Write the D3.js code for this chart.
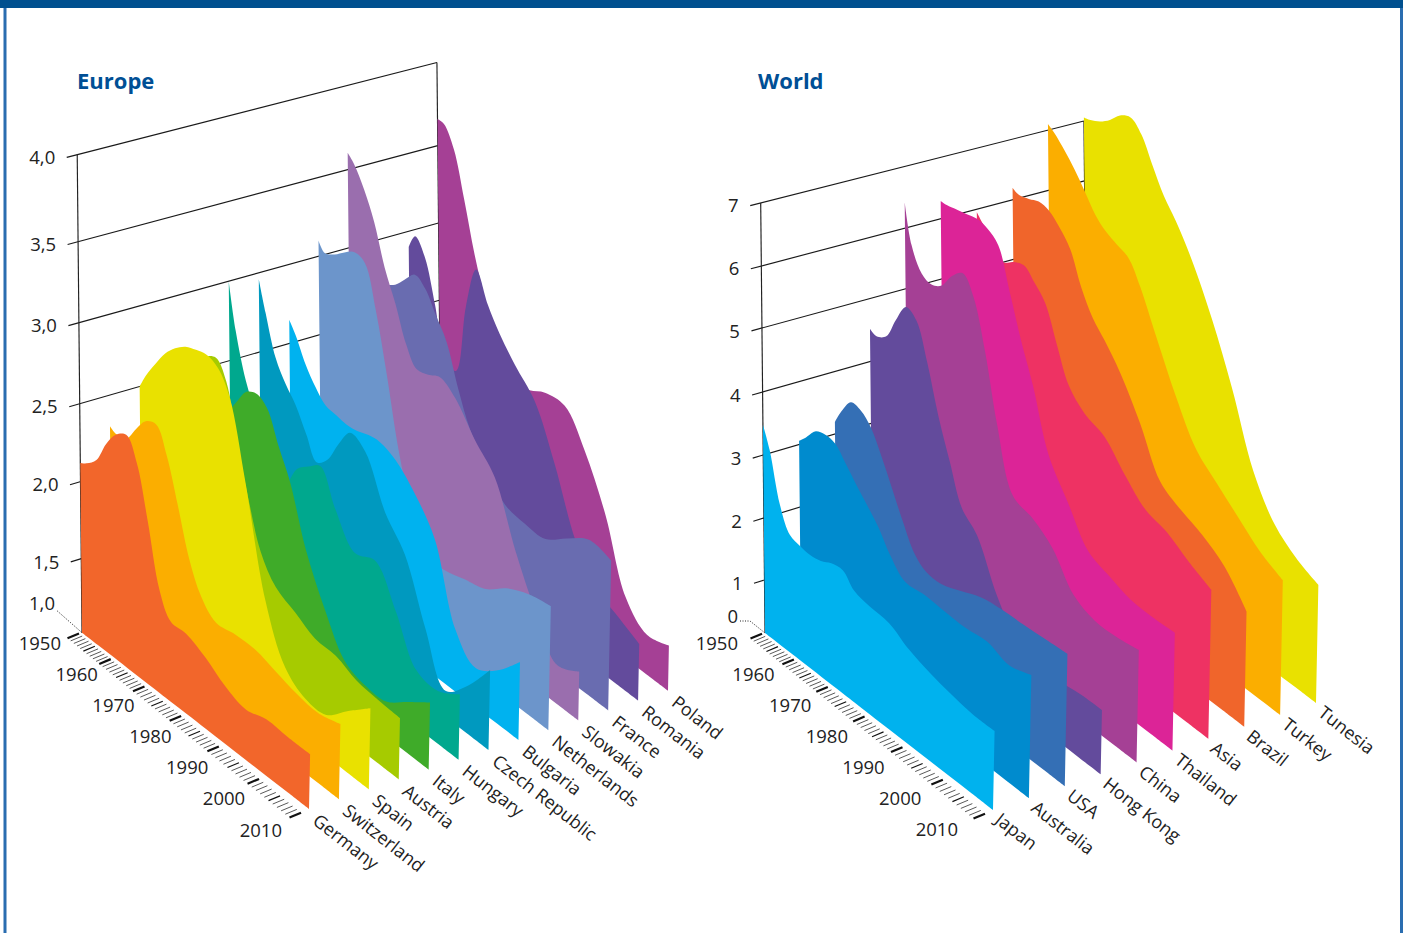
<!DOCTYPE html>
<html>
<head>
<meta charset="utf-8">
<script src="https://cdn.jsdelivr.net/npm/d3@7"></script>
<style>
  html, body { margin: 0; background: #fff; }
  text { font-family: "Open Sans", sans-serif; fill: #222; }
  .title { font-size: 22px; font-weight: 700; fill: #004f95; }
  .tick-label { font-size: 18.5px; }
  .series-label { font-size: 18px; }
</style>
</head>
<body>
<svg id="chart" width="1408" height="933"></svg>
<script>
// Fertility rates 1950-2010, two ridge charts drawn in a faked 3D view

const years = [1950, 1952, 1955, 1958, 1961, 1964, 1967, 1970, 1973, 1976, 1980, 1985, 1990, 1995, 2000, 2005, 2010];

// the year axis is foreshortened, decades get wider towards the viewer
const decades = [1950, 1960, 1970, 1980, 1990, 2000, 2010];
const decadePos = [0, 0.143, 0.295, 0.46, 0.63, 0.811, 1];

// Europe, front to back
const europeNames = ['Germany', 'Switzerland', 'Spain', 'Austria', 'Italy', 'Hungary', 'Czech Republic', 'Bulgaria', 'Netherlands', 'Slowakia', 'France', 'Romania', 'Poland'];
const europeColors = ['#f2662b', '#fbae00', '#e9e100', '#a6cb00', '#3fab29', '#00a88e', '#0099bf', '#00b2ef', '#6c95cb', '#9a6eae', '#696cb0', '#634b9c', '#a54095'];
const germany = [2.12, 2.15, 2.22, 2.37, 2.48, 2.53, 2.40, 2.08, 1.69, 1.54, 1.54, 1.48, 1.39, 1.34, 1.38, 1.37, 1.37];
const switzerland = [2.30, 2.28, 2.30, 2.41, 2.51, 2.54, 2.39, 2.13, 1.83, 1.65, 1.55, 1.57, 1.57, 1.53, 1.49, 1.47, 1.51];
const spain = [2.50, 2.60, 2.72, 2.83, 2.91, 2.97, 3.00, 3.02, 2.99, 2.86, 2.40, 1.73, 1.39, 1.28, 1.28, 1.42, 1.55];
const austria = [2.10, 2.12, 2.25, 2.55, 2.80, 2.85, 2.75, 2.42, 2.09, 1.82, 1.66, 1.59, 1.52, 1.51, 1.45, 1.43, 1.42];
const italy = [2.50, 2.40, 2.36, 2.35, 2.46, 2.58, 2.62, 2.58, 2.39, 2.21, 1.85, 1.54, 1.30, 1.24, 1.24, 1.35, 1.46];
const hungary = [3.00, 2.72, 2.45, 2.27, 2.00, 1.85, 1.98, 2.13, 2.20, 2.26, 2.05, 1.86, 1.91, 1.68, 1.39, 1.36, 1.45];
const czech = [2.96, 2.78, 2.54, 2.42, 2.33, 2.19, 2.06, 2.13, 2.29, 2.42, 2.37, 2.07, 1.89, 1.50, 1.18, 1.33, 1.55];
const bulgaria = [2.65, 2.58, 2.44, 2.34, 2.27, 2.26, 2.25, 2.26, 2.29, 2.30, 2.26, 2.13, 1.93, 1.43, 1.27, 1.37, 1.54];
const netherlands = [3.10, 3.05, 3.09, 3.15, 3.20, 3.18, 2.93, 2.57, 2.13, 1.83, 1.57, 1.56, 1.60, 1.64, 1.75, 1.82, 1.85];
const slowakia = [3.60, 3.56, 3.45, 3.29, 3.05, 2.87, 2.66, 2.55, 2.57, 2.61, 2.55, 2.37, 2.22, 1.83, 1.52, 1.27, 1.34];
const france = [2.82, 2.75, 2.79, 2.87, 2.95, 2.91, 2.79, 2.67, 2.42, 2.21, 2.05, 1.88, 1.85, 1.85, 1.96, 2.06, 2.03];
const romania = [2.90, 3.00, 2.91, 2.65, 2.33, 2.32, 2.79, 3.08, 2.91, 2.78, 2.65, 2.51, 2.19, 1.78, 1.56, 1.48, 1.40];
const poland = [3.66, 3.66, 3.55, 3.28, 2.97, 2.72, 2.52, 2.37, 2.33, 2.35, 2.41, 2.42, 2.22, 1.89, 1.43, 1.28, 1.32];
const europeSeries = [germany, switzerland, spain, austria, italy, hungary, czech, bulgaria, netherlands, slowakia, france, romania, poland];
const europeTicks = [1, 1.5, 2, 2.5, 3, 3.5, 4];
const europeTickLabels = ['1,0', '1,5', '2,0', '2,5', '3,0', '3,5', '4,0'];

// World, front to back
const worldNames = ['Japan', 'Australia', 'USA', 'Hong Kong', 'China', 'Thailand', 'Asia', 'Brazil', 'Turkey', 'Tunesia'];
const worldColors = ['#00b2ee', '#008bce', '#346fb5', '#634b9c', '#a54095', '#dc2497', '#ee3263', '#f0652b', '#fbae00', '#e9e100'];
const japan = [3.48, 3.16, 2.41, 2.05, 2.00, 1.98, 2.02, 2.11, 2.14, 1.95, 1.89, 1.86, 1.68, 1.56, 1.48, 1.42, 1.42];
const australia = [3.06, 3.19, 3.41, 3.48, 3.46, 3.27, 3.06, 2.87, 2.65, 2.35, 2.10, 2.13, 2.11, 2.10, 2.14, 2.03, 2.14];
const usa = [3.19, 3.44, 3.71, 3.70, 3.55, 3.21, 2.82, 2.42, 2.05, 1.90, 1.89, 2.02, 2.16, 2.22, 2.24, 2.27, 2.30];
const hongKong = [4.52, 4.48, 4.60, 4.98, 5.32, 5.23, 4.68, 3.97, 3.35, 2.76, 2.50, 1.77, 1.28, 1.13, 1.14, 1.19, 1.20];
const china = [6.42, 5.80, 5.46, 5.40, 5.51, 5.80, 5.98, 5.73, 4.95, 3.93, 2.97, 2.84, 2.60, 2.10, 1.94, 1.94, 2.00];
const thailand = [6.29, 6.30, 6.35, 6.40, 6.45, 6.42, 6.28, 5.68, 4.98, 4.40, 3.46, 2.90, 2.37, 2.22, 2.10, 2.08, 2.10];
const asia = [5.95, 5.82, 5.60, 5.45, 5.58, 5.66, 5.50, 5.29, 4.74, 4.23, 3.97, 3.83, 3.46, 3.13, 3.02, 2.80, 2.62];
const brazil = [6.20, 6.16, 6.22, 6.30, 6.28, 6.13, 5.90, 5.40, 5.02, 4.80, 4.46, 3.87, 3.16, 2.94, 2.79, 2.54, 2.08];
const turkey = [7.10, 7.03, 6.87, 6.68, 6.44, 6.18, 6.03, 5.95, 5.87, 5.53, 4.90, 4.14, 3.52, 3.20, 2.90, 2.60, 2.41];
const tunesia = [7.06, 7.10, 7.20, 7.35, 7.55, 7.65, 7.50, 7.13, 6.74, 6.47, 6.02, 5.26, 4.35, 3.24, 2.62, 2.32, 2.15];
const worldSeries = [japan, australia, usa, hongKong, china, thailand, asia, brazil, turkey, tunesia];
const worldTicks = [0, 1, 2, 3, 4, 5, 6, 7];
const worldTickLabels = ['0', '1', '2', '3', '4', '5', '6', '7'];

const svg = d3.select('#chart');

// page frame
svg.append('rect').attr('x', 3.5).attr('y', 0).attr('width', 3).attr('height', 933).attr('fill', '#2a6db0');
svg.append('rect').attr('x', 1400).attr('y', 0).attr('width', 3).attr('height', 933).attr('fill', '#2a6db0');
svg.append('rect').attr('width', 1403).attr('height', 8).attr('fill', '#00508f');

const yearPos = d3.scaleLinear().domain(decades).range(decadePos);

function drawPanel(cfg) {
    const g = svg.append('g');
    const last = cfg.names.length - 1;

    // pixel height above the floor, the value axis is not quite linear either
    const height = d3.scaleLinear().domain(cfg.ticks).range(cfg.tickHeights);

    // floor position of a series / year
    function floor(s, year) {
        const u = s / last, t = yearPos(year);
        return [
            (1 - t) * (cfg.front[0] + u * (cfg.back[0] - cfg.front[0])) + t * (cfg.frontEnd[0] + u * (cfg.backEnd[0] - cfg.frontEnd[0])),
            (1 - t) * (cfg.front[1] + u * (cfg.back[1] - cfg.front[1])) + t * (cfg.frontEnd[1] + u * (cfg.backEnd[1] - cfg.frontEnd[1]))
        ];
    }

    // same point lifted to a value, verticals lean a little and shrink to the back
    function project(s, year, v) {
        const p = floor(s, year);
        const h = height(v) * (1 - cfg.shrink * s / last);
        const t = yearPos(year);
        const lean = -0.01 + 0.03 * t * t;
        return [p[0] + lean * h, p[1] - h];
    }

    g.append('text').attr('class', 'title').attr('x', cfg.titleX).attr('y', 88.5).text(cfg.title);

    // grid on the two walls
    const top = cfg.ticks[cfg.ticks.length - 1], bottom = cfg.ticks[0];
    cfg.ticks.slice(1).forEach((v, i) => {
        const a = project(0, 1950, v), b = project(last, 1950, v);
        const dir = (b[1] - a[1]) / (b[0] - a[0]);
        g.append('line')
            .attr('x1', a[0] - 10.5).attr('y1', a[1] - dir * 10.5)
            .attr('x2', b[0]).attr('y2', b[1])
            .attr('stroke', '#1a1a1a').attr('stroke-width', 1.15);
        g.append('text').attr('class', 'tick-label')
            .attr('x', a[0] - 22).attr('y', a[1] - dir * 10.5)
            .attr('dy', '0.36em').attr('text-anchor', 'end')
            .text(cfg.tickLabels[i + 1]);
    });
    [0, last].forEach(s => {
        const a = project(s, 1950, bottom), b = project(s, 1950, top);
        g.append('line').attr('x1', a[0]).attr('y1', a[1]).attr('x2', b[0]).attr('y2', b[1])
            .attr('stroke', '#222').attr('stroke-width', 1.15);
    });

    // dotted leader for the lowest tick
    const f0 = project(0, 1950, bottom);
    g.append('path')
        .attr('d', d3.line()(cfg.leader.map(d => [f0[0] + d[0], f0[1] + d[1]])))
        .attr('fill', 'none').attr('stroke', '#222').attr('stroke-width', 1).attr('stroke-dasharray', '1 1.5');
    g.append('text').attr('class', 'tick-label')
        .attr('x', f0[0] + cfg.leader[0][0] - 2).attr('y', f0[1] + cfg.lowLabelY)
        .attr('dy', '0.36em').attr('text-anchor', 'end')
        .text(cfg.tickLabels[0]);

    // ridges, back one first so the front ones cover it
    const area = d3.area()
        .x0(d => floor(d.s, d.year)[0]).y0(d => floor(d.s, d.year)[1])
        .x1(d => project(d.s, d.year, d.v)[0]).y1(d => project(d.s, d.year, d.v)[1])
        .curve(d3.curveCatmullRom.alpha(0.5));

    const ridges = cfg.series.map((vals, s) => ({ s, points: vals.map((v, i) => ({ s, v, year: years[i] })) }));
    g.selectAll('.ridge').data(ridges.slice().reverse()).enter().append('path')
        .attr('class', 'ridge')
        .attr('d', d => area(d.points))
        .attr('fill', d => cfg.colors[d.s]);

    // year ticks along the front edge
    d3.range(1950, 2011).forEach(year => {
        const p = floor(0, year), t = yearPos(year);
        const ox = -3 - 5 * t, oy = 0.8 + 3 * t;
        g.append('line')
            .attr('x1', p[0] + ox).attr('y1', p[1] + oy)
            .attr('x2', p[0] + ox - 11.5).attr('y2', p[1] + oy + 4.8)
            .attr('stroke', '#111')
            .attr('stroke-width', year % 10 === 0 ? 2.2 : (year % 5 === 0 ? 1.2 : 0.7));
    });

    // year labels are evenly spaced, not foreshortened like the ticks
    const labelX = d3.scaleLinear().domain([1950, 2010]).range(cfg.yearLabelX);
    const labelY = d3.scaleLinear().domain([1950, 2010]).range(cfg.yearLabelY);
    g.selectAll('.year-label').data(decades).enter().append('text')
        .attr('class', 'tick-label year-label')
        .attr('x', d => labelX(d)).attr('y', d => labelY(d))
        .attr('dy', '0.36em').attr('text-anchor', 'end')
        .text(d => d);

    // series names under the end of each ridge
    g.selectAll('.series-label').data(cfg.names).enter().append('text')
        .attr('class', 'series-label')
        .attr('transform', (d, s) => {
            const p = floor(s, 2010);
            return `translate(${p[0] + cfg.nameOffset[0]},${p[1] + cfg.nameOffset[1]}) rotate(38)`;
        })
        .text(d => d);
}

drawPanel({
    title: 'Europe', titleX: 77,
    names: europeNames, colors: europeColors, series: europeSeries,
    ticks: europeTicks, tickLabels: europeTickLabels,
    tickHeights: [0, 74, 151, 229, 310, 391, 478],
    front: [82, 632.7], back: [441.5, 519], frontEnd: [309, 809], backEnd: [668, 690.7],
    shrink: 0.045,
    leader: [[-25, -22], [0, 0]], lowLabelY: -29,
    yearLabelX: [61, 282], yearLabelY: [643, 830],
    nameOffset: [2.5, 14]
});

drawPanel({
    title: 'World', titleX: 758,
    names: worldNames, colors: worldColors, series: worldSeries,
    ticks: worldTicks, tickLabels: worldTickLabels,
    tickHeights: [0, 53, 115, 178, 241, 305, 367, 430],
    front: [765, 633], back: [1088, 529.5], frontEnd: [993, 810], backEnd: [1316, 703],
    shrink: 0.05,
    leader: [[-25, -12], [-15, -12], [0, 0]], lowLabelY: -17,
    yearLabelX: [738, 958], yearLabelY: [643, 829],
    nameOffset: [1, 12]
});
</script>
</body>
</html>
